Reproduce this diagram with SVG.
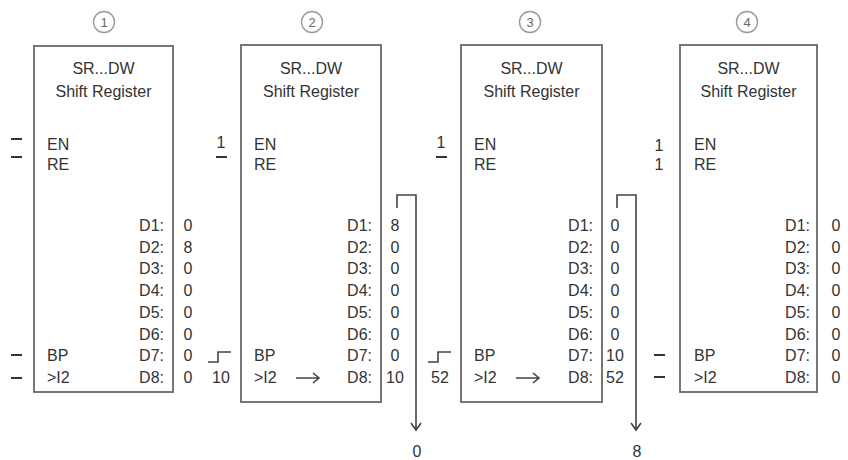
<svg xmlns="http://www.w3.org/2000/svg" width="848" height="460" viewBox="0 0 848 460">
<style>
text{font-family:"Liberation Sans",Arial,sans-serif;font-size:16px;fill:#333}
.c{text-anchor:middle}
.e{text-anchor:end}
.box{fill:#fff;stroke:#707070;stroke-width:1.9}
.num circle{fill:none;stroke:#9a9a9a;stroke-width:1.4}
.num text{font-size:13px;fill:#666;text-anchor:middle}
.ln{fill:none;stroke:#444;stroke-width:1.6}
.dash{fill:none;stroke:#333;stroke-width:2.2}
</style>
<rect width="848" height="460" fill="#fff"/>
<g id="labels" class="num">
<circle cx="104" cy="22" r="10.5"/><text x="104" y="27">1</text>
<circle cx="312" cy="22" r="10.5"/><text x="312" y="27">2</text>
<circle cx="530" cy="22" r="10.5"/><text x="530" y="27">3</text>
<circle cx="747" cy="22" r="10.5"/><text x="747" y="27">4</text>
</g>
<g id="box1">
<rect class="box" x="34" y="46" width="139" height="346"/>
<text class="c" x="103.5" y="74">SR...DW</text>
<text class="c" x="103.5" y="97">Shift Register</text>
<text x="47" y="150">EN</text><text x="47" y="170">RE</text>
<text x="47" y="361">BP</text><text x="47" y="383">&gt;I2</text>
<text class="e" x="164" y="231">D1:</text><text class="e" x="164" y="253">D2:</text><text class="e" x="164" y="274">D3:</text><text class="e" x="164" y="296">D4:</text><text class="e" x="164" y="318">D5:</text><text class="e" x="164" y="340">D6:</text><text class="e" x="164" y="361">D7:</text><text class="e" x="164" y="383">D8:</text>
<text class="c" x="188" y="231">0</text><text class="c" x="188" y="253">8</text><text class="c" x="188" y="274">0</text><text class="c" x="188" y="296">0</text><text class="c" x="188" y="318">0</text><text class="c" x="188" y="340">0</text><text class="c" x="188" y="361">0</text><text class="c" x="188" y="383">0</text>
</g>
<g id="box2">
<rect class="box" x="241" y="45" width="140" height="357"/>
<text class="c" x="311" y="74">SR...DW</text>
<text class="c" x="311" y="97">Shift Register</text>
<text x="254" y="150">EN</text><text x="254" y="170">RE</text>
<text x="254" y="361">BP</text><text x="254" y="383">&gt;I2</text>
<text class="e" x="372" y="231">D1:</text><text class="e" x="372" y="253">D2:</text><text class="e" x="372" y="274">D3:</text><text class="e" x="372" y="296">D4:</text><text class="e" x="372" y="318">D5:</text><text class="e" x="372" y="340">D6:</text><text class="e" x="372" y="361">D7:</text><text class="e" x="372" y="383">D8:</text>
<text class="c" x="395" y="231">8</text><text class="c" x="395" y="253">0</text><text class="c" x="395" y="274">0</text><text class="c" x="395" y="296">0</text><text class="c" x="395" y="318">0</text><text class="c" x="395" y="340">0</text><text class="c" x="395" y="361">0</text><text class="c" x="395" y="383">10</text>
</g>
<g id="box3">
<rect class="box" x="461" y="45" width="141" height="357"/>
<text class="c" x="531.5" y="74">SR...DW</text>
<text class="c" x="531.5" y="97">Shift Register</text>
<text x="474" y="150">EN</text><text x="474" y="170">RE</text>
<text x="474" y="361">BP</text><text x="474" y="383">&gt;I2</text>
<text class="e" x="593" y="231">D1:</text><text class="e" x="593" y="253">D2:</text><text class="e" x="593" y="274">D3:</text><text class="e" x="593" y="296">D4:</text><text class="e" x="593" y="318">D5:</text><text class="e" x="593" y="340">D6:</text><text class="e" x="593" y="361">D7:</text><text class="e" x="593" y="383">D8:</text>
<text class="c" x="615" y="231">0</text><text class="c" x="615" y="253">0</text><text class="c" x="615" y="274">0</text><text class="c" x="615" y="296">0</text><text class="c" x="615" y="318">0</text><text class="c" x="615" y="340">0</text><text class="c" x="615" y="361">10</text><text class="c" x="615" y="383">52</text>
</g>
<g id="box4">
<rect class="box" x="680" y="45" width="137" height="347"/>
<text class="c" x="748.5" y="74">SR...DW</text>
<text class="c" x="748.5" y="97">Shift Register</text>
<text x="694" y="150">EN</text><text x="694" y="170">RE</text>
<text x="694" y="361">BP</text><text x="694" y="383">&gt;I2</text>
<text class="e" x="810" y="231">D1:</text><text class="e" x="810" y="253">D2:</text><text class="e" x="810" y="274">D3:</text><text class="e" x="810" y="296">D4:</text><text class="e" x="810" y="318">D5:</text><text class="e" x="810" y="340">D6:</text><text class="e" x="810" y="361">D7:</text><text class="e" x="810" y="383">D8:</text>
<text class="c" x="836" y="231">0</text><text class="c" x="836" y="253">0</text><text class="c" x="836" y="274">0</text><text class="c" x="836" y="296">0</text><text class="c" x="836" y="318">0</text><text class="c" x="836" y="340">0</text><text class="c" x="836" y="361">0</text><text class="c" x="836" y="383">0</text>
</g>
<g id="inputs">
<text class="c" x="221" y="148">1</text>
<text class="c" x="441" y="148">1</text>
<text class="c" x="659" y="151">1</text>
<text class="c" x="659" y="170">1</text>
<text class="c" x="221" y="383">10</text>
<text class="c" x="440" y="383">52</text>
<text class="c" x="417" y="457">0</text>
<text class="c" x="637" y="457">8</text>
</g>
<g id="connectors">
<path class="dash" d="M11,139H22M11,157H22M11,355H22M11,378H22"/>
<path class="dash" d="M216,157H227M436,157H447"/>
<path class="dash" d="M654,355H665M654,377H665"/>
<path class="ln" d="M208,362H218V352H231"/>
<path class="ln" d="M428,362H438V352H451"/>
<path class="ln" d="M296,378H319M313,373L319,378L313,383"/>
<path class="ln" d="M516,378H539M533,373L539,378L533,383"/>
<path class="ln" d="M397,208V195H416V430M411,423L416,430L421,423"/>
<path class="ln" d="M617,208V195H636V430M631,423L636,430L641,423"/>
</g>
</svg>
